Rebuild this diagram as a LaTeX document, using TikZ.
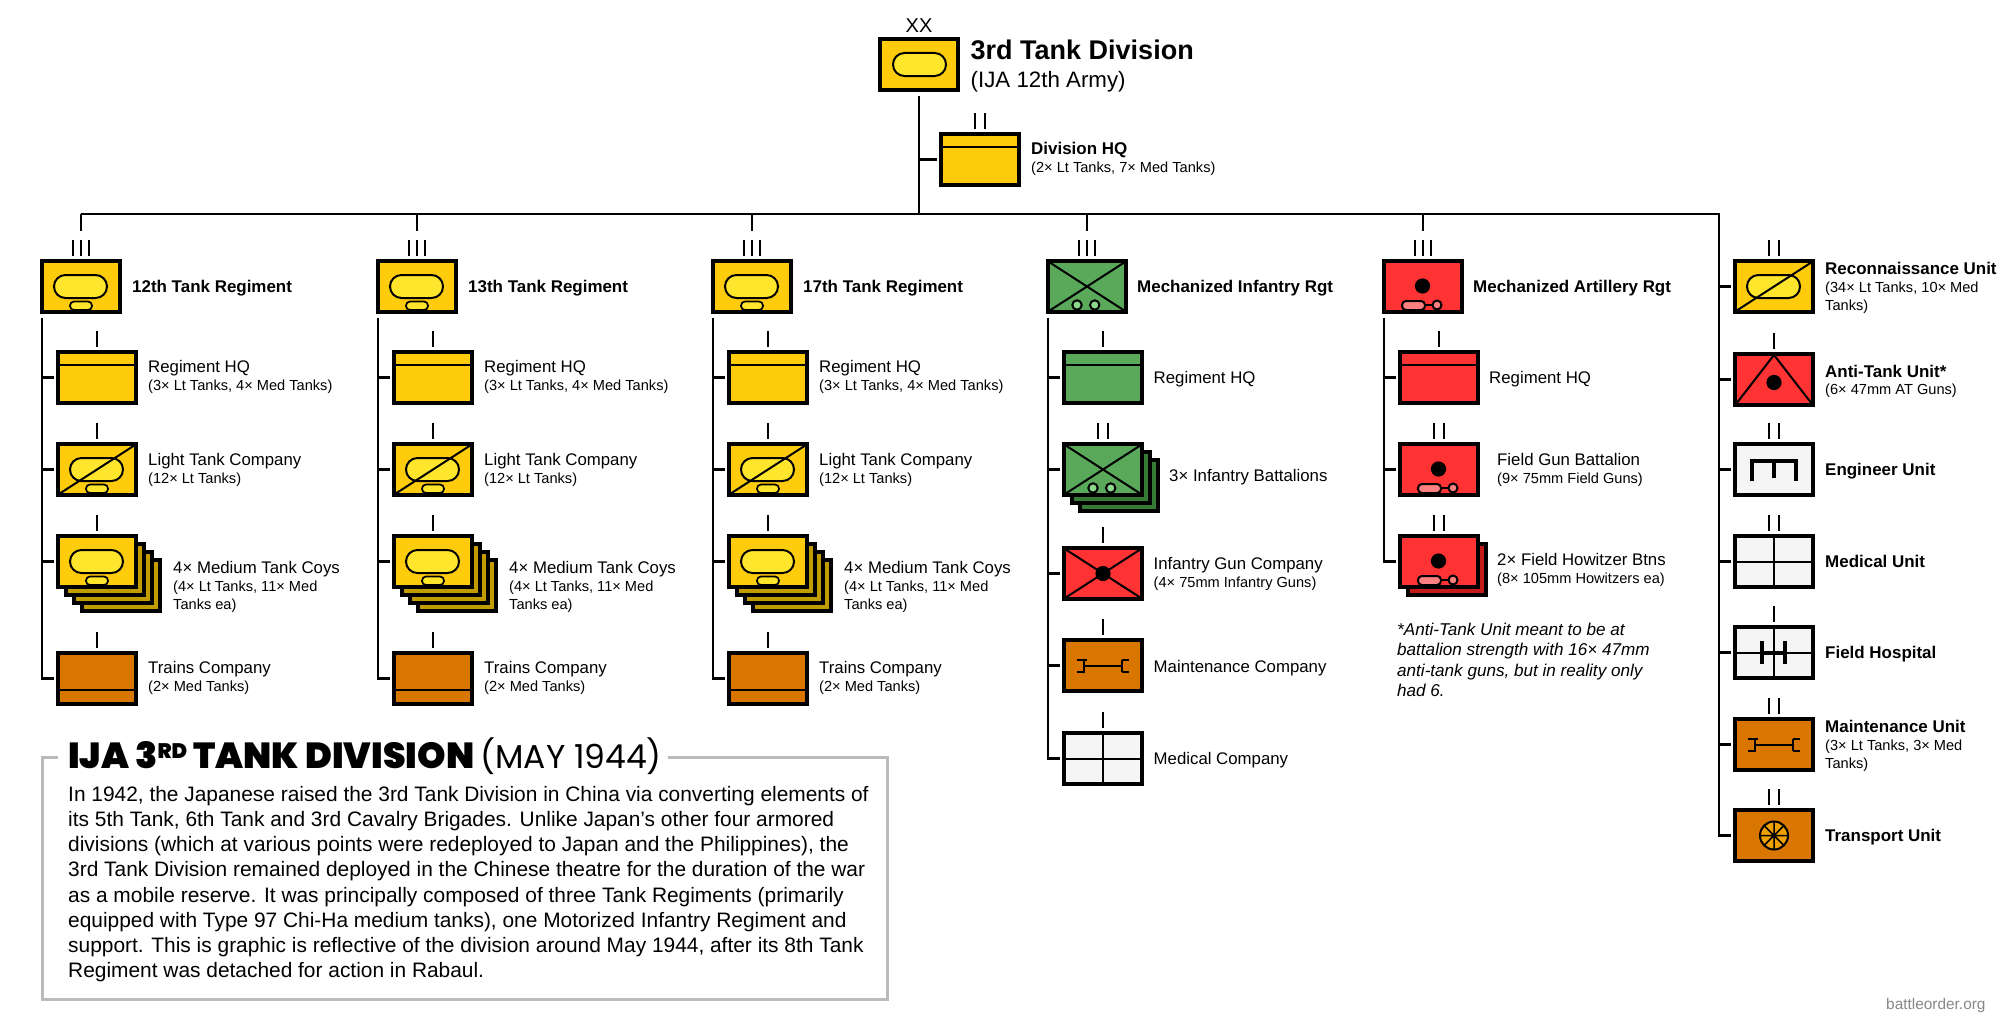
\documentclass[tikz,border=0pt]{standalone}
\usepackage{fontspec}
\setmainfont{Liberation Sans}
\newfontfamily\titlefont{Poppins}
\newfontfamily\titleblack{Poppins Black}
\definecolor{cyel}{HTML}{FFCC0D}
\definecolor{cyelin}{HTML}{FFE52B}
\definecolor{cyeldk}{HTML}{C09C00}
\definecolor{cgrn}{HTML}{5AA85A}
\definecolor{cgrnin}{HTML}{8CD98C}
\definecolor{cgrndk}{HTML}{357A35}
\definecolor{cred}{HTML}{FF3333}
\definecolor{credin}{HTML}{FF8080}
\definecolor{creddk}{HTML}{C41A1A}
\definecolor{corg}{HTML}{D97600}
\definecolor{corgin}{HTML}{EEA000}
\definecolor{cwht}{HTML}{F5F5F5}
\definecolor{cframe}{HTML}{BBBBBB}
\definecolor{cwm}{HTML}{888888}
\tikzset{
  symb/.style={draw=black,line width=3.7pt,minimum width=78.3pt,minimum height=51.3pt,inner sep=0pt},
  conn/.style={draw=black,line width=2.2pt},
  echel/.style={draw=black,line width=2.3pt},
  ln/.style={draw=black,line width=2pt},
  thk/.style={draw=black,line width=4pt},
  mainlab/.style={anchor=base west,inner sep=0pt,font=\fontsize{16.8}{20}\selectfont},
  boldlab/.style={anchor=base west,inner sep=0pt,font=\fontsize{16.95}{20}\selectfont\bfseries},
  sublab/.style={anchor=north west,inner sep=0pt,align=left,font=\fontsize{14.6}{18}\selectfont},
  bodytxt/.style={anchor=north west,inner sep=0pt,align=left,font=\fontsize{20.9}{25.2}\selectfont},
  notetxt/.style={anchor=north west,inner sep=0pt,align=left,font=\fontsize{17.1}{20.5}\selectfont\itshape},
}
% #1 name, #2 x, #3 y, #4 fill, #5 contents
\newcommand\unitbox[5]{\begin{scope}[shift={(#2,#3)}]\node[symb,fill=#4] (#1) at (41,27.5) {};#5\end{scope}}
\newcommand\backbox[4]{\begin{scope}[shift={(#2,#3)}]\node[symb,fill=#4] (#1) at (41,27.5) {};\end{scope}}
\newcommand\cHQ{\draw[ln] (3,15)--(79,15);}
\newcommand\cTR{\draw[ln] (3,39)--(79,39);}
\newcommand\cOval{\draw[ln,fill=cyelin,rounded corners=11.4pt] (14,16) rectangle (67,39);}
\newcommand\cPill{\draw[draw=black,line width=1.7pt,fill=cyelin,rounded corners=4pt] (30,42.5) rectangle (52,51);}
\newcommand\cDiag{\draw[ln] (3,52)--(79,3);}
\newcommand\cX{\draw[ln] (3,3)--(79,52) (3,52)--(79,3);}
\newcommand\cWheels{\draw[ln,fill=cgrnin] (31,46) circle (4.7) (48.7,46) circle (4.7);}
\newcommand\cDot[2]{\fill[black] (#1,#2) circle (7.6);}
\newcommand\cTow{\draw[ln] (43,46)--(52,46);\draw[ln,fill=credin,rounded corners=4pt] (20,42) rectangle (43,51);\draw[ln,fill=credin] (55,46) circle (4.5);}
\newcommand\cMaint{\draw[ln] (25,22)--(22,22)--(22,34)--(15,34) (15,22)--(22,22) (22,28)--(59,28) (60,22)--(60,34) (60,22)--(67,22) (60,34)--(67,34);}
\newcommand\cCross{\draw[ln] (41,3)--(41,52) (3,27.5)--(79,27.5);}
\newcommand\cEng{\draw[thk] (19,38.5)--(19,19)--(63,19)--(63,38.5) (41,19)--(41,36);}
\newcommand\cHosp{\draw[thk] (29,15.5)--(29,39) (52,15.5)--(52,39) (29,27.5)--(52,27.5);}
\newcommand\cWheel{\draw[ln,fill=corgin] (41,27.5) circle (14);\draw[draw=black,line width=1.5pt] (27,27.5)--(55,27.5) (41,13.5)--(41,41.5) (31.1,17.6)--(50.9,37.4) (31.1,37.4)--(50.9,17.6);}
\newcommand\echI[1]{\draw[echel] ([yshift=3pt]#1.north)--([yshift=19pt]#1.north);}
\newcommand\echII[1]{\draw[echel] ([xshift=-5pt,yshift=3pt]#1.north)--([xshift=-5pt,yshift=19pt]#1.north) ([xshift=5pt,yshift=3pt]#1.north)--([xshift=5pt,yshift=19pt]#1.north);}
\newcommand\echIII[1]{\echI{#1}\draw[echel] ([xshift=-8.3pt,yshift=3pt]#1.north)--([xshift=-8.3pt,yshift=19pt]#1.north) ([xshift=8.3pt,yshift=3pt]#1.north)--([xshift=8.3pt,yshift=19pt]#1.north);}
\newcommand\tick[2]{\draw[conn,shorten >=2pt] (#1 |- #2.west) -- (#2.west);}
% text helpers: #1 name, #2 x, #3 y-centre, #4 text
\newcommand\mlab[4]{\node[mainlab] (#1) at (#2,#3+6) {#4};}
\newcommand\blab[4]{\node[boldlab] (#1) at (#2,#3+6.5) {#4};}
\newcommand\slab[4]{\node[sublab] (#1) at (#2,#3-6) {\rule{0pt}{11pt}#4};}
% tank regiment column: #1 prefix, #2 x offset, #3 title
\newcommand\tankreg[3]{%
  \unitbox{#1}{40+#2}{259}{cyel}{\cOval\cPill}
  \echIII{#1}
  \blab{#1t}{132+#2}{286}{#3}
  \unitbox{#1a}{56+#2}{350}{cyel}{\cHQ}
  \echI{#1a}
  \mlab{#1at}{148+#2}{366}{Regiment HQ}
  \slab{#1as}{148+#2}{385}{(3× Lt Tanks, 4× Med Tanks)}
  \unitbox{#1b}{56+#2}{442}{cyel}{\cOval\cPill\cDiag}
  \echI{#1b}
  \mlab{#1bt}{148+#2}{459}{Light Tank Company}
  \slab{#1bs}{148+#2}{478}{(12× Lt Tanks)}
  \backbox{#1c3}{80+#2}{558}{cyeldk}
  \backbox{#1c2}{72+#2}{550}{cyeldk}
  \backbox{#1c1}{64+#2}{542}{cyeldk}
  \unitbox{#1c}{56+#2}{534}{cyel}{\cOval\cPill}
  \echI{#1c}
  \mlab{#1ct}{173+#2}{567}{4× Medium Tank Coys}
  \slab{#1cs}{173+#2}{586}{(4× Lt Tanks, 11× Med\\Tanks ea)}
  \unitbox{#1d}{56+#2}{651}{corg}{\cTR}
  \echI{#1d}
  \mlab{#1dt}{148+#2}{667}{Trains Company}
  \slab{#1ds}{148+#2}{686}{(2× Med Tanks)}
  \coordinate (#1sp) at ([xshift=2pt,yshift=-4pt]#1.south west);
  \draw[conn,shorten >=2pt] (#1sp) -- (#1sp |- #1d.west) -- (#1d.west);
  \tick{#1sp}{#1a}\tick{#1sp}{#1b}\tick{#1sp}{#1c}
}
\begin{document}
\begin{tikzpicture}[x=1pt,y=-1pt]
\useasboundingbox (0,0) rectangle (2012,1033);
\fill[white] (0,0) rectangle (2012,1033);

% Division
\unitbox{div}{878}{37}{cyel}{\draw[ln,fill=cyelin,rounded corners=11.4pt] (15,16) rectangle (68,39);}
\node[anchor=base,inner sep=0pt,font=\fontsize{20}{20}\selectfont] (divxx) at (919,33) {XX};
\node[anchor=base west,inner sep=0pt,font=\fontsize{27}{30}\selectfont\bfseries] (divt) at (970.5,59.5) {3rd Tank Division};
\node[anchor=base west,inner sep=0pt,font=\fontsize{22.3}{26}\selectfont] (divs) at (970.5,87) {(IJA 12th Army)};
\unitbox{dhq}{939}{132}{cyel}{\cHQ}
\echII{dhq}
\blab{dhqt}{1031}{148}{Division HQ}
\slab{dhqs}{1031}{167}{(2× Lt Tanks, 7× Med Tanks)}

% Tank regiments
\tankreg{ra}{0}{12th Tank Regiment}
\tankreg{rb}{336}{13th Tank Regiment}
\tankreg{rc}{671}{17th Tank Regiment}

% Mechanized Infantry
\unitbox{mi}{1046}{259}{cgrn}{\cX\cWheels}
\echIII{mi}
\blab{mit}{1137}{286}{Mechanized Infantry Rgt}
\unitbox{mia}{1062}{350}{cgrn}{\cHQ}
\echI{mia}
\mlab{miat}{1153.5}{377}{Regiment HQ}
\backbox{mib2}{1078}{458}{cgrndk}
\backbox{mib1}{1070}{450}{cgrndk}
\unitbox{mib}{1062}{442}{cgrn}{\cX\cWheels}
\echII{mib}
\mlab{mibt}{1169}{475}{3× Infantry Battalions}
\unitbox{mic}{1062}{546}{cred}{\cX\cDot{41}{27.5}}
\echI{mic}
\mlab{mict}{1153.5}{563}{Infantry Gun Company}
\slab{mics}{1153.5}{582}{(4× 75mm Infantry Guns)}
\unitbox{mid}{1062}{638}{corg}{\cMaint}
\echI{mid}
\mlab{midt}{1153.5}{666}{Maintenance Company}
\unitbox{mie}{1062}{731}{cwht}{\cCross}
\echI{mie}
\mlab{miet}{1153.5}{758}{Medical Company}
\coordinate (misp) at ([xshift=2pt,yshift=-4pt]mi.south west);
\draw[conn,shorten >=2pt] (misp) -- (misp |- mie.west) -- (mie.west);
\tick{misp}{mia}\tick{misp}{mib}\tick{misp}{mic}\tick{misp}{mid}

% Mechanized Artillery
\unitbox{ar}{1382}{259}{cred}{\cDot{40.5}{27}\cTow}
\echIII{ar}
\blab{art}{1473}{286}{Mechanized Artillery Rgt}
\unitbox{ara}{1398}{350}{cred}{\cHQ}
\echI{ara}
\mlab{arat}{1489}{377}{Regiment HQ}
\unitbox{arb}{1398}{442}{cred}{\cDot{40.5}{27}\cTow}
\echII{arb}
\mlab{arbt}{1497}{459}{Field Gun Battalion}
\slab{arbs}{1497}{478}{(9× 75mm Field Guns)}
\backbox{arc1}{1406}{542}{creddk}
\unitbox{arc}{1398}{534}{cred}{\cDot{40.5}{27}\cTow}
\echII{arc}
\mlab{arct}{1497}{559}{2× Field Howitzer Btns}
\slab{arcs}{1497}{578}{(8× 105mm Howitzers ea)}
\coordinate (arsp) at ([xshift=2pt,yshift=-4pt]ar.south west);
\draw[conn,shorten >=2pt] (arsp) -- (arsp |- arc.west) -- (arc.west);
\tick{arsp}{ara}\tick{arsp}{arb}
\node[notetxt] (note) at (1397,622) {\rule{0pt}{13pt}*Anti-Tank Unit meant to be at\\battalion strength with 16× 47mm\\anti-tank guns, but in reality only\\had 6.};

% Right column
\unitbox{ua}{1733}{259}{cyel}{\cOval\cDiag}
\echII{ua}
\blab{uat}{1825}{268}{Reconnaissance Unit}
\slab{uas}{1825}{287}{(34× Lt Tanks, 10× Med\\Tanks)}
\unitbox{ub}{1733}{352}{cred}{\draw[ln] (3,52)--(41,3)--(79,52);\cDot{41}{30.5}}
\echI{ub}
\blab{ubt}{1825}{371}{Anti-Tank Unit*}
\slab{ubs}{1825}{389}{(6× 47mm AT Guns)}
\unitbox{uc}{1733}{442}{cwht}{\cEng}
\echII{uc}
\blab{uct}{1825}{469}{Engineer Unit}
\unitbox{ud}{1733}{534}{cwht}{\cCross}
\echII{ud}
\blab{udt}{1825}{561}{Medical Unit}
\unitbox{ue}{1733}{625}{cwht}{\cCross\cHosp}
\echI{ue}
\blab{uet}{1825}{652}{Field Hospital}
\unitbox{uf}{1733}{717}{corg}{\cMaint}
\echII{uf}
\blab{uft}{1825}{726}{Maintenance Unit}
\slab{ufs}{1825}{745}{(3× Lt Tanks, 3× Med\\Tanks)}
\unitbox{ug}{1733}{808}{corg}{\cWheel}
\echII{ug}
\blab{ugt}{1825}{835}{Transport Unit}

% Connectors
\coordinate (bus) at (919,214);
\coordinate (rsp) at (1719,214);
\draw[conn,shorten <=4pt] (div.south) -- (bus);
\draw[conn,shorten >=2pt] (bus |- dhq.west) -- (dhq.west);
\draw[conn] (bus -| ra.north) -- (rsp) -- (rsp |- ug.west) -- ([xshift=-2pt]ug.west);
\foreach \r in {ra,rb,rc,mi,ar}{\draw[conn,shorten >=28pt] (bus -| \r.north) -- (\r.north);}
\foreach \u in {ua,ub,uc,ud,ue,uf}{\tick{rsp}{\u}}

% Panel
\draw[draw=cframe,line width=3pt] (58,757) -- (42,757) -- (42,999) -- (887,999) -- (887,757) -- (668,757);
\node[anchor=base west,inner sep=0pt,font=\fontsize{36.2}{40}\selectfont\titleblack] (ptitle) at (68,768) {IJA 3\raisebox{10pt}{\fontsize{21}{21}\selectfont RD} TANK DIVISION {\titlefont\fontsize{33}{40}\selectfont (MAY 1944)}};
\node[bodytxt] (pbody) at (68,782) {\rule{0pt}{19pt}In 1942, the Japanese raised the 3rd Tank Division in China via converting elements of\\its 5th Tank, 6th Tank and 3rd Cavalry Brigades. Unlike Japan’s other four armored\\divisions (which at various points were redeployed to Japan and the Philippines), the\\3rd Tank Division remained deployed in the Chinese theatre for the duration of the war\\as a mobile reserve. It was principally composed of three Tank Regiments (primarily\\equipped with Type 97 Chi-Ha medium tanks), one Motorized Infantry Regiment and\\support. This is graphic is reflective of the division around May 1944, after its 8th Tank\\Regiment was detached for action in Rabaul.};
\node[anchor=base west,inner sep=0pt,text=cwm,font=\fontsize{15.4}{18}\selectfont] (wm) at (1886,1009) {battleorder.org};
\end{tikzpicture}
\end{document}
